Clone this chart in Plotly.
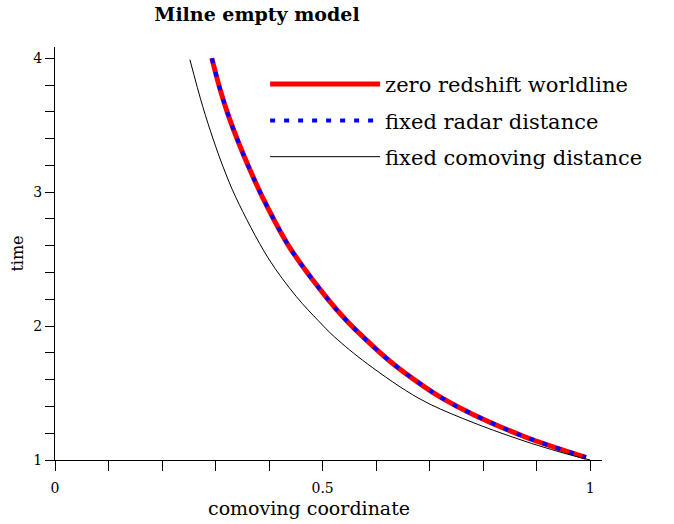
import plotly.graph_objects as go

# --- data ---
zero_t = [4.00, 3.76, 3.56, 3.36, 3.16, 2.96, 2.59, 2.19, 2.04, 1.91, 1.73, 1.55, 1.46, 1.34, 1.17, 1.02]
zero_x = [0.293, 0.309, 0.325, 0.344, 0.365, 0.388, 0.438, 0.512, 0.545, 0.578, 0.628, 0.689, 0.724, 0.781, 0.880, 0.992]

radar_t = [4.00, 3.76, 3.56, 3.36, 3.16, 2.96, 2.59, 2.19, 2.04, 1.91, 1.73, 1.55, 1.46, 1.34, 1.17, 1.02]
radar_x = [0.293, 0.309, 0.325, 0.344, 0.365, 0.388, 0.438, 0.512, 0.545, 0.578, 0.628, 0.689, 0.724, 0.781, 0.880, 0.992]

comov_t = [3.99, 3.64, 3.39, 3.19, 2.96, 2.51, 2.22, 2.04, 1.92, 1.72, 1.46, 1.31, 1.14, 1.03, 1.00]
comov_x = [0.252, 0.276, 0.296, 0.314, 0.338, 0.398, 0.451, 0.492, 0.522, 0.583, 0.680, 0.762, 0.878, 0.970, 1.000]

x_tickvals = [0, 0.1, 0.2, 0.3, 0.4, 0.5, 0.6, 0.7, 0.8, 0.9, 1.0]
x_ticktext = ["0", "", "", "", "", "0.5", "", "", "", "", "1"]
y_tickvals = [1, 1.2, 1.4, 1.6, 1.8, 2, 2.2, 2.4, 2.6, 2.8, 3, 3.2, 3.4, 3.6, 3.8, 4]
y_ticktext = ["1", "", "", "", "", "2", "", "", "", "", "3", "", "", "", "", "4"]

SERIF = "DejaVu Serif"

fig = go.Figure()
fig.add_trace(go.Scatter(x=zero_x, y=zero_t, mode="lines", name="zero redshift worldline",
                         legendgroup="a",
                         line=dict(color="#ff0000", width=5, shape="spline")))
fig.add_trace(go.Scatter(x=radar_x, y=radar_t, mode="lines", name="fixed radar distance",
                         legendgroup="b",
                         line=dict(color="#0000ff", width=4, dash="5px,9px", shape="spline")))
fig.add_trace(go.Scatter(x=comov_x, y=comov_t, mode="lines", name="fixed comoving distance",
                         legendgroup="c",
                         line=dict(color="#000000", width=1, shape="spline")))

fig.update_layout(
    width=674, height=524,
    paper_bgcolor="white", plot_bgcolor="white",
    margin=dict(l=55, r=72, t=47, b=64),
    font=dict(family=SERIF, size=14, color="black"),
    title=dict(text="<b>Milne empty model</b>", x=0.3813, xanchor="center",
               y=0.9733, yanchor="middle", font=dict(family=SERIF, size=19)),
    showlegend=True,
    legend=dict(x=0.3841, y=0.959, xanchor="left", yanchor="top",
                bgcolor="rgba(0,0,0,0)", font=dict(family=SERIF, size=21),
                itemwidth=110, tracegroupgap=6, traceorder="grouped"),
    annotations=[dict(text="comoving coordinate", xref="paper", yref="paper",
                      x=0.4646, y=-0.116, xanchor="center", yanchor="middle",
                      showarrow=False, font=dict(family=SERIF, size=19))],
)
fig.update_xaxes(range=[0, 1.022], showgrid=False, zeroline=False,
                 showline=True, linecolor="black", linewidth=1,
                 ticks="outside", ticklen=10, tickcolor="black", tickwidth=1,
                 tickvals=x_tickvals, ticktext=x_ticktext, ticklabelstandoff=5,
                 tickfont=dict(family=SERIF, size=14), automargin=False)
fig.update_yaxes(range=[1, 4.084], showgrid=False, zeroline=False,
                 showline=True, linecolor="black", linewidth=1,
                 ticks="outside", ticklen=9, tickcolor="black", tickwidth=1,
                 tickvals=y_tickvals, ticktext=y_ticktext,
                 tickfont=dict(family=SERIF, size=14), automargin=False,
                 title=dict(text="time", font=dict(family=SERIF, size=16), standoff=5))

fig.write_html("out.html", config={"displayModeBar": False},
               post_script="document.body.style.margin='0';")
